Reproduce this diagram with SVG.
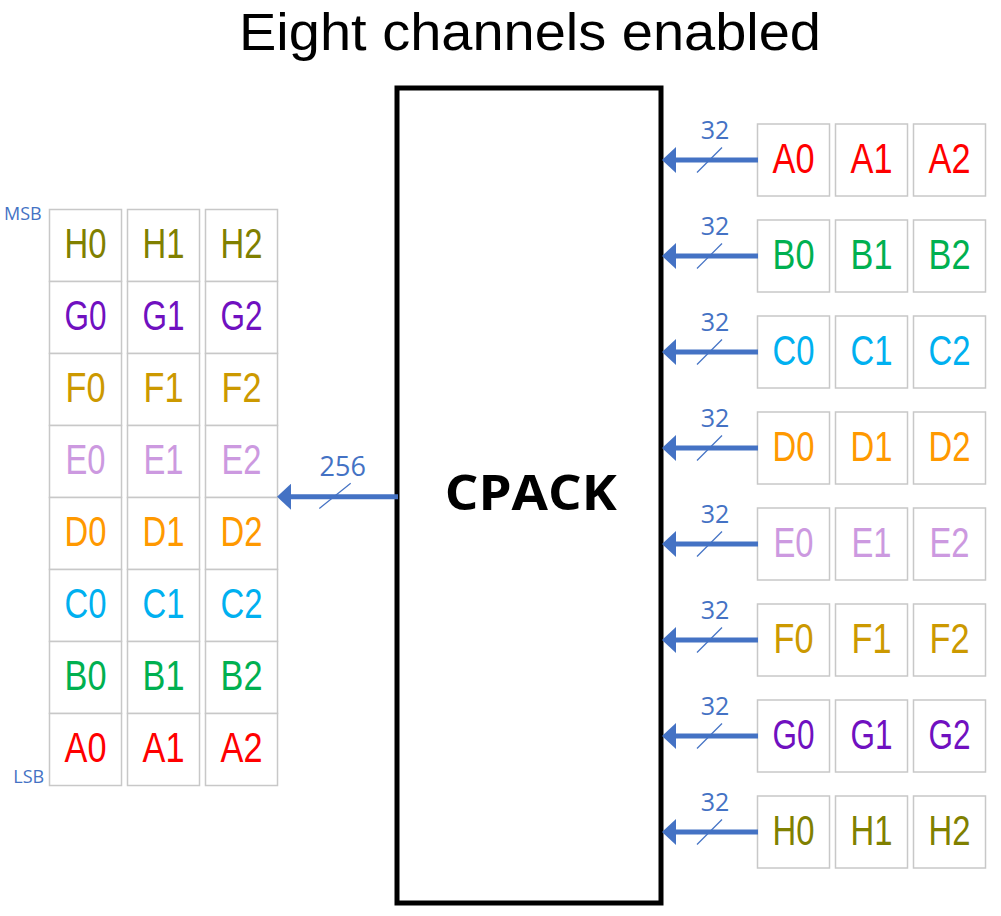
<svg xmlns="http://www.w3.org/2000/svg" width="1001" height="916" viewBox="0 0 1001 916">
<style>
.cell{fill:#ffffff;stroke:#c8c8c8;stroke-width:1.5}
.ct{font-family:"Liberation Sans",Arial,sans-serif;font-size:43px;text-anchor:middle}
.bus{stroke:#4472C4;stroke-width:5;fill:none}
.sl{stroke:#4472C4;stroke-width:1.2;fill:none}
.wl{font-family:"Open Sans","Liberation Sans",sans-serif;fill:#4472C4;text-anchor:middle}
.A{fill:#FF0000}.B{fill:#00B050}.C{fill:#00B0F0}.D{fill:#FF9900}
.E{fill:#CC99E0}.F{fill:#CC9900}.G{fill:#7010C0}.H{fill:#808000}
</style>
<defs>
<marker id="ah" viewBox="0 0 14 26" refX="6" refY="13" markerWidth="14" markerHeight="26" markerUnits="userSpaceOnUse" orient="auto">
<path d="M0,0 L14,13 L0,26 z" fill="#4472C4"/>
</marker>
</defs>
<rect width="1001" height="916" fill="#ffffff"/>
<text x="530" y="49.5" font-family="'Liberation Sans',Arial,sans-serif" font-size="51" text-anchor="middle" textLength="582" lengthAdjust="spacingAndGlyphs" fill="#000">Eight channels enabled</text>

<g id="cpack">
<rect x="397" y="88" width="264" height="815" fill="#ffffff" stroke="#000" stroke-width="5"/>
<text x="530.8" y="510" font-family="'Open Sans','Liberation Sans',sans-serif" font-weight="bold" font-size="49" text-anchor="middle" textLength="172" lengthAdjust="spacingAndGlyphs" fill="#000">CPACK</text>
</g>

<g id="out-grid">
<text x="4" y="220" class="wl" style="text-anchor:start;font-size:18px">MSB</text>
<text x="13.3" y="782.7" class="wl" style="text-anchor:start;font-size:18px">LSB</text>
<g id="out-H"><rect class="cell" x="49.5" y="209.5" width="72" height="72"/><rect class="cell" x="127.5" y="209.5" width="72" height="72"/><rect class="cell" x="205.5" y="209.5" width="72" height="72"/>
<text class="ct H" x="85.5" y="257.5" textLength="42" lengthAdjust="spacingAndGlyphs">H0</text><text class="ct H" x="163.5" y="257.5" textLength="42" lengthAdjust="spacingAndGlyphs">H1</text><text class="ct H" x="241.5" y="257.5" textLength="42" lengthAdjust="spacingAndGlyphs">H2</text></g>
<g id="out-G"><rect class="cell" x="49.5" y="281.5" width="72" height="72"/><rect class="cell" x="127.5" y="281.5" width="72" height="72"/><rect class="cell" x="205.5" y="281.5" width="72" height="72"/>
<text class="ct G" x="85.5" y="329.5" textLength="42" lengthAdjust="spacingAndGlyphs">G0</text><text class="ct G" x="163.5" y="329.5" textLength="42" lengthAdjust="spacingAndGlyphs">G1</text><text class="ct G" x="241.5" y="329.5" textLength="42" lengthAdjust="spacingAndGlyphs">G2</text></g>
<g id="out-F"><rect class="cell" x="49.5" y="353.5" width="72" height="72"/><rect class="cell" x="127.5" y="353.5" width="72" height="72"/><rect class="cell" x="205.5" y="353.5" width="72" height="72"/>
<text class="ct F" x="85.5" y="401.5" textLength="40" lengthAdjust="spacingAndGlyphs">F0</text><text class="ct F" x="163.5" y="401.5" textLength="40" lengthAdjust="spacingAndGlyphs">F1</text><text class="ct F" x="241.5" y="401.5" textLength="40" lengthAdjust="spacingAndGlyphs">F2</text></g>
<g id="out-E"><rect class="cell" x="49.5" y="425.5" width="72" height="72"/><rect class="cell" x="127.5" y="425.5" width="72" height="72"/><rect class="cell" x="205.5" y="425.5" width="72" height="72"/>
<text class="ct E" x="85.5" y="473.5" textLength="40" lengthAdjust="spacingAndGlyphs">E0</text><text class="ct E" x="163.5" y="473.5" textLength="40" lengthAdjust="spacingAndGlyphs">E1</text><text class="ct E" x="241.5" y="473.5" textLength="40" lengthAdjust="spacingAndGlyphs">E2</text></g>
<g id="out-D"><rect class="cell" x="49.5" y="497.5" width="72" height="72"/><rect class="cell" x="127.5" y="497.5" width="72" height="72"/><rect class="cell" x="205.5" y="497.5" width="72" height="72"/>
<text class="ct D" x="85.5" y="545.5" textLength="42" lengthAdjust="spacingAndGlyphs">D0</text><text class="ct D" x="163.5" y="545.5" textLength="42" lengthAdjust="spacingAndGlyphs">D1</text><text class="ct D" x="241.5" y="545.5" textLength="42" lengthAdjust="spacingAndGlyphs">D2</text></g>
<g id="out-C"><rect class="cell" x="49.5" y="569.5" width="72" height="72"/><rect class="cell" x="127.5" y="569.5" width="72" height="72"/><rect class="cell" x="205.5" y="569.5" width="72" height="72"/>
<text class="ct C" x="85.5" y="617.5" textLength="42" lengthAdjust="spacingAndGlyphs">C0</text><text class="ct C" x="163.5" y="617.5" textLength="42" lengthAdjust="spacingAndGlyphs">C1</text><text class="ct C" x="241.5" y="617.5" textLength="42" lengthAdjust="spacingAndGlyphs">C2</text></g>
<g id="out-B"><rect class="cell" x="49.5" y="641.5" width="72" height="72"/><rect class="cell" x="127.5" y="641.5" width="72" height="72"/><rect class="cell" x="205.5" y="641.5" width="72" height="72"/>
<text class="ct B" x="85.5" y="689.5" textLength="42" lengthAdjust="spacingAndGlyphs">B0</text><text class="ct B" x="163.5" y="689.5" textLength="42" lengthAdjust="spacingAndGlyphs">B1</text><text class="ct B" x="241.5" y="689.5" textLength="42" lengthAdjust="spacingAndGlyphs">B2</text></g>
<g id="out-A"><rect class="cell" x="49.5" y="713.5" width="72" height="72"/><rect class="cell" x="127.5" y="713.5" width="72" height="72"/><rect class="cell" x="205.5" y="713.5" width="72" height="72"/>
<text class="ct A" x="85.5" y="761.5" textLength="42" lengthAdjust="spacingAndGlyphs">A0</text><text class="ct A" x="163.5" y="761.5" textLength="42" lengthAdjust="spacingAndGlyphs">A1</text><text class="ct A" x="241.5" y="761.5" textLength="42" lengthAdjust="spacingAndGlyphs">A2</text></g>
</g>

<g id="in-A"><rect class="cell" x="757.5" y="124" width="72" height="72"/><rect class="cell" x="835.5" y="124" width="72" height="72"/><rect class="cell" x="913.5" y="124" width="72" height="72"/>
<text class="ct A" x="793.5" y="172.5" textLength="42" lengthAdjust="spacingAndGlyphs">A0</text><text class="ct A" x="871.5" y="172.5" textLength="42" lengthAdjust="spacingAndGlyphs">A1</text><text class="ct A" x="949.5" y="172.5" textLength="42" lengthAdjust="spacingAndGlyphs">A2</text></g>
<g id="in-B"><rect class="cell" x="757.5" y="220" width="72" height="72"/><rect class="cell" x="835.5" y="220" width="72" height="72"/><rect class="cell" x="913.5" y="220" width="72" height="72"/>
<text class="ct B" x="793.5" y="268.5" textLength="42" lengthAdjust="spacingAndGlyphs">B0</text><text class="ct B" x="871.5" y="268.5" textLength="42" lengthAdjust="spacingAndGlyphs">B1</text><text class="ct B" x="949.5" y="268.5" textLength="42" lengthAdjust="spacingAndGlyphs">B2</text></g>
<g id="in-C"><rect class="cell" x="757.5" y="316" width="72" height="72"/><rect class="cell" x="835.5" y="316" width="72" height="72"/><rect class="cell" x="913.5" y="316" width="72" height="72"/>
<text class="ct C" x="793.5" y="364.5" textLength="42" lengthAdjust="spacingAndGlyphs">C0</text><text class="ct C" x="871.5" y="364.5" textLength="42" lengthAdjust="spacingAndGlyphs">C1</text><text class="ct C" x="949.5" y="364.5" textLength="42" lengthAdjust="spacingAndGlyphs">C2</text></g>
<g id="in-D"><rect class="cell" x="757.5" y="412" width="72" height="72"/><rect class="cell" x="835.5" y="412" width="72" height="72"/><rect class="cell" x="913.5" y="412" width="72" height="72"/>
<text class="ct D" x="793.5" y="460.5" textLength="42" lengthAdjust="spacingAndGlyphs">D0</text><text class="ct D" x="871.5" y="460.5" textLength="42" lengthAdjust="spacingAndGlyphs">D1</text><text class="ct D" x="949.5" y="460.5" textLength="42" lengthAdjust="spacingAndGlyphs">D2</text></g>
<g id="in-E"><rect class="cell" x="757.5" y="508" width="72" height="72"/><rect class="cell" x="835.5" y="508" width="72" height="72"/><rect class="cell" x="913.5" y="508" width="72" height="72"/>
<text class="ct E" x="793.5" y="556.5" textLength="40" lengthAdjust="spacingAndGlyphs">E0</text><text class="ct E" x="871.5" y="556.5" textLength="40" lengthAdjust="spacingAndGlyphs">E1</text><text class="ct E" x="949.5" y="556.5" textLength="40" lengthAdjust="spacingAndGlyphs">E2</text></g>
<g id="in-F"><rect class="cell" x="757.5" y="604" width="72" height="72"/><rect class="cell" x="835.5" y="604" width="72" height="72"/><rect class="cell" x="913.5" y="604" width="72" height="72"/>
<text class="ct F" x="793.5" y="652.5" textLength="40" lengthAdjust="spacingAndGlyphs">F0</text><text class="ct F" x="871.5" y="652.5" textLength="40" lengthAdjust="spacingAndGlyphs">F1</text><text class="ct F" x="949.5" y="652.5" textLength="40" lengthAdjust="spacingAndGlyphs">F2</text></g>
<g id="in-G"><rect class="cell" x="757.5" y="700" width="72" height="72"/><rect class="cell" x="835.5" y="700" width="72" height="72"/><rect class="cell" x="913.5" y="700" width="72" height="72"/>
<text class="ct G" x="793.5" y="748.5" textLength="42" lengthAdjust="spacingAndGlyphs">G0</text><text class="ct G" x="871.5" y="748.5" textLength="42" lengthAdjust="spacingAndGlyphs">G1</text><text class="ct G" x="949.5" y="748.5" textLength="42" lengthAdjust="spacingAndGlyphs">G2</text></g>
<g id="in-H"><rect class="cell" x="757.5" y="796" width="72" height="72"/><rect class="cell" x="835.5" y="796" width="72" height="72"/><rect class="cell" x="913.5" y="796" width="72" height="72"/>
<text class="ct H" x="793.5" y="844.5" textLength="42" lengthAdjust="spacingAndGlyphs">H0</text><text class="ct H" x="871.5" y="844.5" textLength="42" lengthAdjust="spacingAndGlyphs">H1</text><text class="ct H" x="949.5" y="844.5" textLength="42" lengthAdjust="spacingAndGlyphs">H2</text></g>

<g id="connectors">
<line class="bus" x1="398" y1="496.7" x2="285" y2="496.7" marker-end="url(#ah)"/>
<line class="sl" x1="319.3" y1="508.5" x2="350.7" y2="483.3"/>
<text class="wl" x="342.7" y="476" font-size="27">256</text>

<line class="bus" x1="758" y1="160" x2="670" y2="160" marker-end="url(#ah)"/>
<line class="sl" x1="697" y1="172.5" x2="722" y2="147.5"/>
<text class="wl" x="715" y="139.3" font-size="25">32</text>
<line class="bus" x1="758" y1="256" x2="670" y2="256" marker-end="url(#ah)"/>
<line class="sl" x1="697" y1="268.5" x2="722" y2="243.5"/>
<text class="wl" x="715" y="235.3" font-size="25">32</text>
<line class="bus" x1="758" y1="352" x2="670" y2="352" marker-end="url(#ah)"/>
<line class="sl" x1="697" y1="364.5" x2="722" y2="339.5"/>
<text class="wl" x="715" y="331.3" font-size="25">32</text>
<line class="bus" x1="758" y1="448" x2="670" y2="448" marker-end="url(#ah)"/>
<line class="sl" x1="697" y1="460.5" x2="722" y2="435.5"/>
<text class="wl" x="715" y="427.3" font-size="25">32</text>
<line class="bus" x1="758" y1="544" x2="670" y2="544" marker-end="url(#ah)"/>
<line class="sl" x1="697" y1="556.5" x2="722" y2="531.5"/>
<text class="wl" x="715" y="523.3" font-size="25">32</text>
<line class="bus" x1="758" y1="640" x2="670" y2="640" marker-end="url(#ah)"/>
<line class="sl" x1="697" y1="652.5" x2="722" y2="627.5"/>
<text class="wl" x="715" y="619.3" font-size="25">32</text>
<line class="bus" x1="758" y1="736" x2="670" y2="736" marker-end="url(#ah)"/>
<line class="sl" x1="697" y1="748.5" x2="722" y2="723.5"/>
<text class="wl" x="715" y="715.3" font-size="25">32</text>
<line class="bus" x1="758" y1="832" x2="670" y2="832" marker-end="url(#ah)"/>
<line class="sl" x1="697" y1="844.5" x2="722" y2="819.5"/>
<text class="wl" x="715" y="811.3" font-size="25">32</text>
</g>
</svg>
